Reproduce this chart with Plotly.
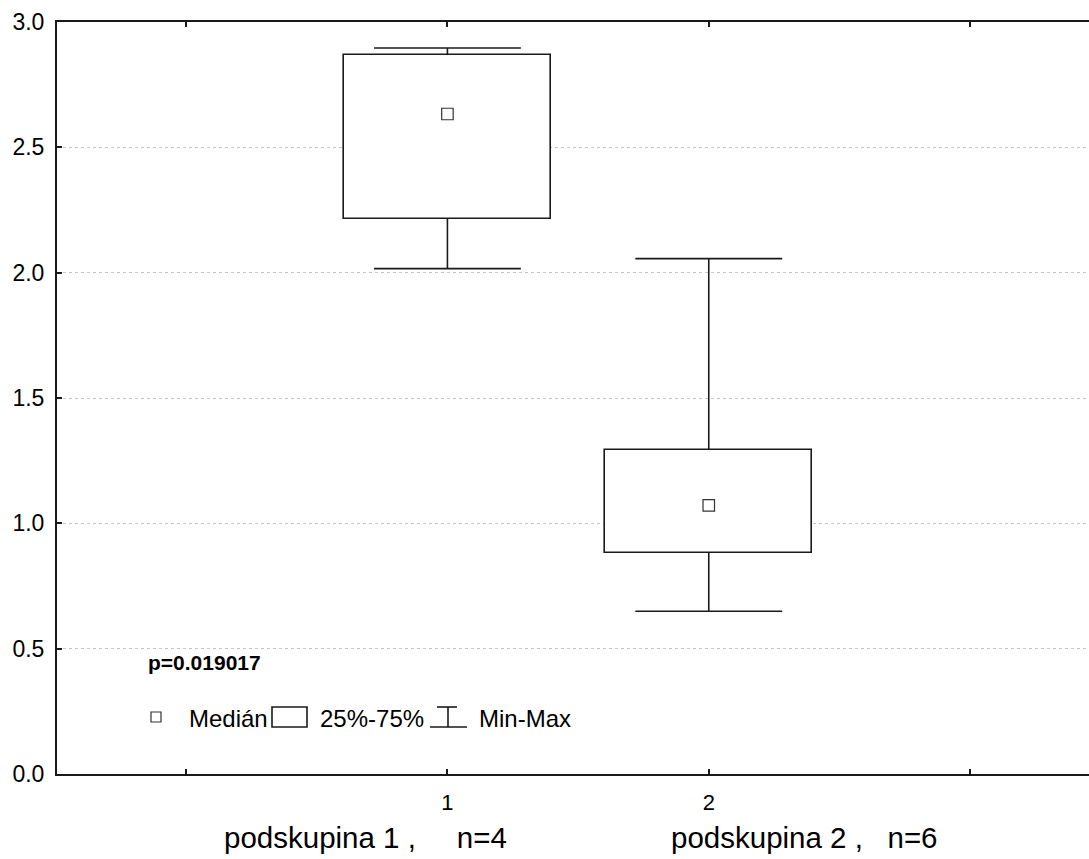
import plotly.graph_objects as go

# ---- data ----
groups = [1, 2]
q1 = [2.214, 0.882]
q3 = [2.868, 1.294]
median = [2.633, 1.072]
vmin = [2.016, 0.649]
vmax = [2.896, 2.056]
group_labels = ["podskupina 1 ,\u00a0\u00a0\u00a0\u00a0\u00a0n=4", "podskupina 2 ,\u00a0\u00a0\u00a0n=6"]
p_text = "p=0.019017"
y_ticks = [0.0, 0.5, 1.0, 1.5, 2.0, 2.5, 3.0]
x_ticks = [0, 1, 2, 3]
x_ticktext = ["", "1", "2", ""]

W, H = 1089, 859
ML, MR, MT, MB = 57, 0, 22, 85
PW, PH = W - ML - MR, H - MT - MB
FONT = "Liberation Sans, Arial, sans-serif"
INK = "#1a1a1a"
BOX_W = 0.792
CAP_HALF = 0.281
LW = 1.6


def px(x):
    return (x - ML) / PW


def py(y):
    return (H - MB - y) / PH


fig = go.Figure()

# boxes (25%-75%)
fig.add_trace(go.Bar(
    x=groups, y=[b - a for a, b in zip(q1, q3)], base=q1, width=BOX_W,
    marker=dict(color="white", line=dict(color=INK, width=LW)),
    showlegend=False, hoverinfo="skip"))

# whiskers + caps
wx, wy = [], []
for g, a, b, lo, hi in zip(groups, q1, q3, vmin, vmax):
    wx += [g, g, None, g - CAP_HALF, g + CAP_HALF, None,
           g, g, None, g - CAP_HALF, g + CAP_HALF, None]
    wy += [b, hi, None, hi, hi, None,
           a, lo, None, lo, lo, None]
fig.add_trace(go.Scatter(x=wx, y=wy, mode="lines", line=dict(color=INK, width=LW),
                         showlegend=False, hoverinfo="skip"))

# medians
fig.add_trace(go.Scatter(
    x=groups, y=median, mode="markers",
    marker=dict(symbol="square-open", size=11.5, color="#333", line=dict(width=1.2)),
    showlegend=False, hoverinfo="skip"))

shapes = []
# legend icons
shapes.append(dict(type="rect", xref="paper", yref="paper",
                   x0=px(151), x1=px(161), y0=py(722), y1=py(712),
                   line=dict(color="#333", width=1.2)))
shapes.append(dict(type="rect", xref="paper", yref="paper",
                   x0=px(272), x1=px(307), y0=py(727), y1=py(707),
                   line=dict(color=INK, width=LW)))
shapes.append(dict(type="line", xref="paper", yref="paper",
                   x0=px(437), x1=px(457), y0=py(707), y1=py(707),
                   line=dict(color=INK, width=LW)))
shapes.append(dict(type="line", xref="paper", yref="paper",
                   x0=px(448), x1=px(448), y0=py(707), y1=py(727),
                   line=dict(color=INK, width=LW)))
shapes.append(dict(type="line", xref="paper", yref="paper",
                   x0=px(430), x1=px(467), y0=py(727), y1=py(727),
                   line=dict(color=INK, width=LW)))

annotations = []
for txt, cx in zip(group_labels, [365, 804]):
    annotations.append(dict(text=txt, xref="paper", yref="paper", x=px(cx), y=py(838),
                            xanchor="center", yanchor="middle", showarrow=False,
                            font=dict(family=FONT, size=29.5, color="black")))
annotations.append(dict(text="<b>" + p_text + "</b>", xref="paper", yref="paper",
                        x=px(146), y=py(662), xanchor="left", yanchor="middle",
                        showarrow=False, font=dict(family=FONT, size=21, color="black")))
for txt, lx in [("Medián", 187), ("25%-75%", 318), ("Min-Max", 477)]:
    annotations.append(dict(text=txt, xref="paper", yref="paper", x=px(lx), y=py(718),
                            xanchor="left", yanchor="middle", showarrow=False,
                            font=dict(family=FONT, size=24, color="black")))

fig.update_layout(
    width=W, height=H, margin=dict(l=ML, r=MR, t=MT, b=MB, pad=0),
    plot_bgcolor="white", paper_bgcolor="white",
    font=dict(family=FONT, color="black"),
    bargap=0, shapes=shapes, annotations=annotations, showlegend=False,
    xaxis=dict(range=[-0.494, 3.455], tickmode="array", tickvals=x_ticks, ticktext=x_ticktext,
               ticks="inside", ticklen=5, tickwidth=1.5, tickcolor=INK,
               showline=True, linecolor=INK, linewidth=2, mirror="ticks",
               showgrid=False, zeroline=False, tickfont=dict(size=22),
               ticklabelstandoff=8),
    yaxis=dict(range=[0, 3], tickmode="array", tickvals=y_ticks,
               ticktext=[f"{v:.1f}" for v in y_ticks],
               ticks="inside", ticklen=5, tickwidth=1.5, tickcolor=INK,
               showline=True, linecolor=INK, linewidth=2, mirror=False,
               showgrid=True, gridcolor="#c4c4c4", griddash="dot", gridwidth=1,
               zeroline=False, tickfont=dict(size=23), ticklabelstandoff=6),
)

fig.write_html("out.html", config={"displayModeBar": False},
               post_script="document.body.style.margin='0';")
